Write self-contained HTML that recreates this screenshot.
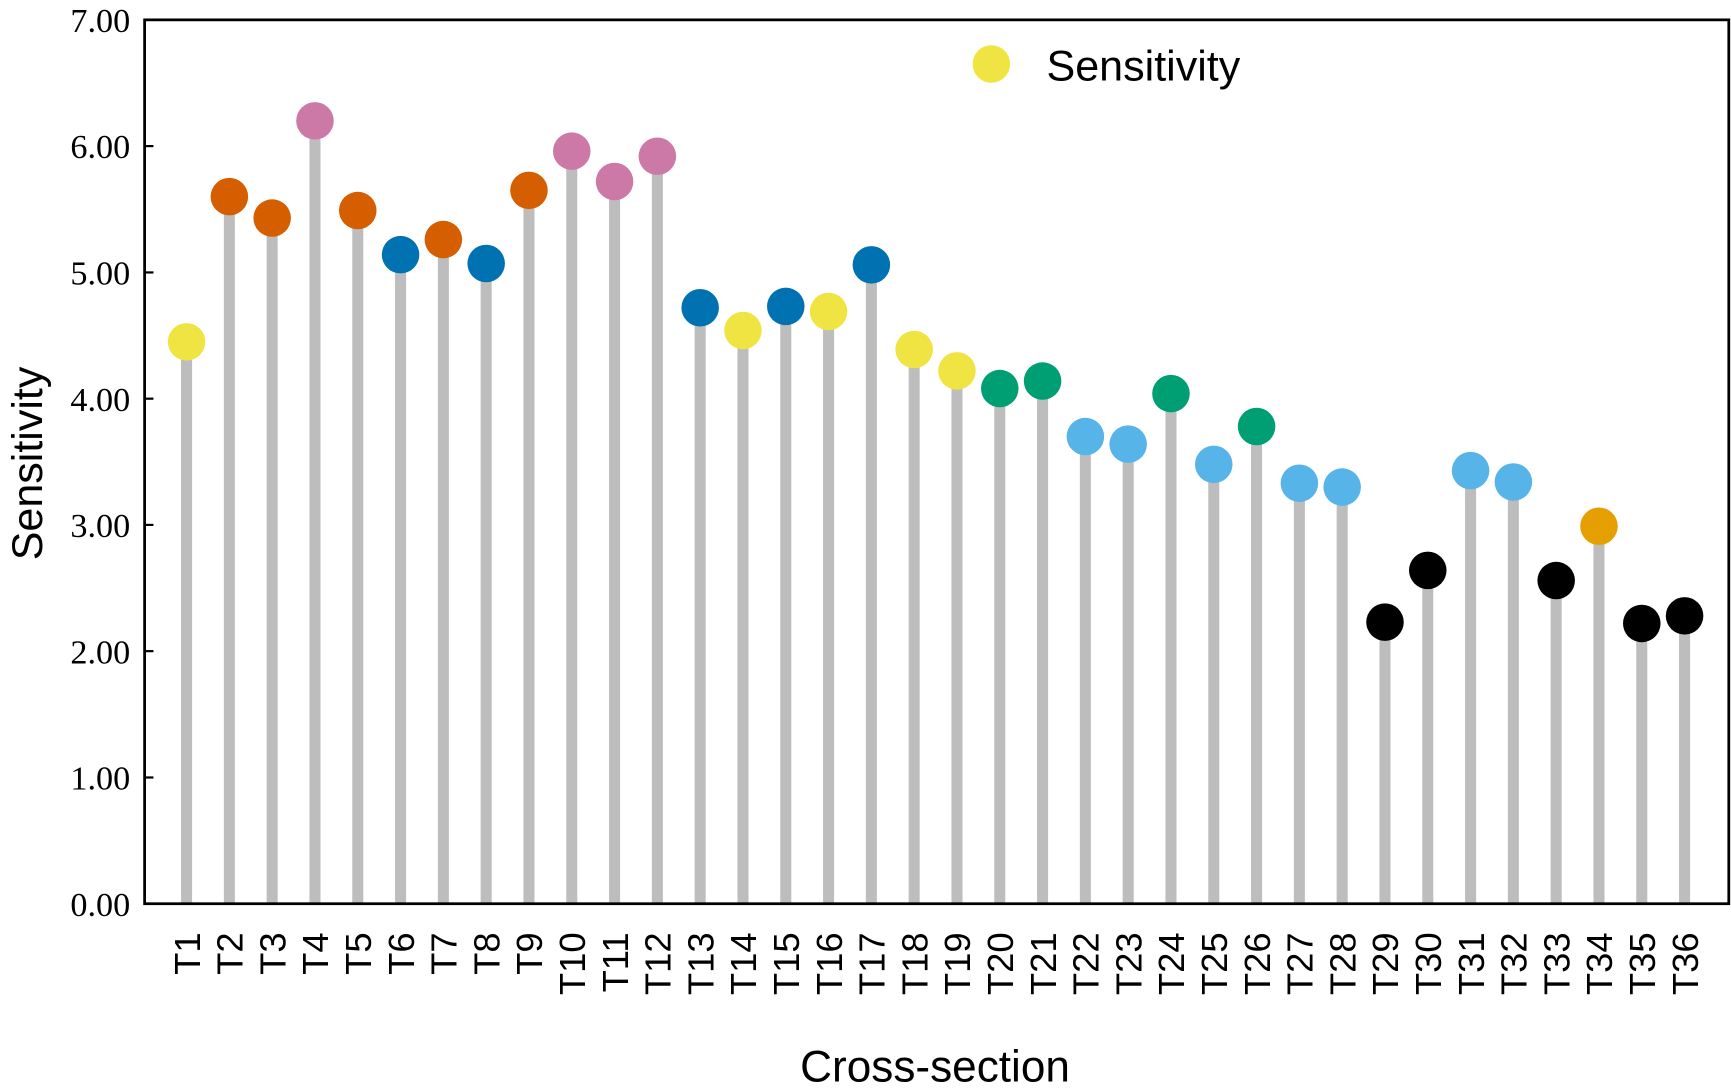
<!DOCTYPE html><html><head><style>body{margin:0;background:#fff}svg{display:block}</style></head><body>
<svg width="1731" height="1088" viewBox="0 0 1568 986" preserveAspectRatio="none" xmlns="http://www.w3.org/2000/svg">
<g stroke="#bdbdbd" stroke-width="10">
<line x1="169" x2="169" y1="819" y2="309.8"/>
<line x1="207.77" x2="207.77" y1="819" y2="178.2"/>
<line x1="246.54" x2="246.54" y1="819" y2="197.6"/>
<line x1="285.31" x2="285.31" y1="819" y2="109.5"/>
<line x1="324.08" x2="324.08" y1="819" y2="190.8"/>
<line x1="362.85" x2="362.85" y1="819" y2="230.8"/>
<line x1="401.62" x2="401.62" y1="819" y2="217.1"/>
<line x1="440.39" x2="440.39" y1="819" y2="238.8"/>
<line x1="479.16" x2="479.16" y1="819" y2="172.5"/>
<line x1="517.93" x2="517.93" y1="819" y2="137"/>
<line x1="556.7" x2="556.7" y1="819" y2="164.5"/>
<line x1="595.47" x2="595.47" y1="819" y2="141.6"/>
<line x1="634.24" x2="634.24" y1="819" y2="278.9"/>
<line x1="673.01" x2="673.01" y1="819" y2="299.5"/>
<line x1="711.78" x2="711.78" y1="819" y2="277.7"/>
<line x1="750.55" x2="750.55" y1="819" y2="282.3"/>
<line x1="789.32" x2="789.32" y1="819" y2="240"/>
<line x1="828.09" x2="828.09" y1="819" y2="316.7"/>
<line x1="866.86" x2="866.86" y1="819" y2="336.1"/>
<line x1="905.63" x2="905.63" y1="819" y2="352.1"/>
<line x1="944.4" x2="944.4" y1="819" y2="345.3"/>
<line x1="983.17" x2="983.17" y1="819" y2="395.6"/>
<line x1="1021.94" x2="1021.94" y1="819" y2="402.5"/>
<line x1="1060.71" x2="1060.71" y1="819" y2="356.7"/>
<line x1="1099.48" x2="1099.48" y1="819" y2="420.8"/>
<line x1="1138.25" x2="1138.25" y1="819" y2="386.5"/>
<line x1="1177.02" x2="1177.02" y1="819" y2="437.9"/>
<line x1="1215.79" x2="1215.79" y1="819" y2="441.4"/>
<line x1="1254.56" x2="1254.56" y1="819" y2="563.8"/>
<line x1="1293.33" x2="1293.33" y1="819" y2="516.9"/>
<line x1="1332.1" x2="1332.1" y1="819" y2="426.5"/>
<line x1="1370.87" x2="1370.87" y1="819" y2="436.8"/>
<line x1="1409.64" x2="1409.64" y1="819" y2="526.1"/>
<line x1="1448.41" x2="1448.41" y1="819" y2="476.9"/>
<line x1="1487.18" x2="1487.18" y1="819" y2="565"/>
<line x1="1525.95" x2="1525.95" y1="819" y2="558.1"/>
</g>
<g>
<circle r="17" cx="169" cy="309.8" fill="#F0E442"/>
<circle r="17" cx="207.77" cy="178.2" fill="#D55E00"/>
<circle r="17" cx="246.54" cy="197.6" fill="#D55E00"/>
<circle r="17" cx="285.31" cy="109.5" fill="#CC79A7"/>
<circle r="17" cx="324.08" cy="190.8" fill="#D55E00"/>
<circle r="17" cx="362.85" cy="230.8" fill="#0072B2"/>
<circle r="17" cx="401.62" cy="217.1" fill="#D55E00"/>
<circle r="17" cx="440.39" cy="238.8" fill="#0072B2"/>
<circle r="17" cx="479.16" cy="172.5" fill="#D55E00"/>
<circle r="17" cx="517.93" cy="137" fill="#CC79A7"/>
<circle r="17" cx="556.7" cy="164.5" fill="#CC79A7"/>
<circle r="17" cx="595.47" cy="141.6" fill="#CC79A7"/>
<circle r="17" cx="634.24" cy="278.9" fill="#0072B2"/>
<circle r="17" cx="673.01" cy="299.5" fill="#F0E442"/>
<circle r="17" cx="711.78" cy="277.7" fill="#0072B2"/>
<circle r="17" cx="750.55" cy="282.3" fill="#F0E442"/>
<circle r="17" cx="789.32" cy="240" fill="#0072B2"/>
<circle r="17" cx="828.09" cy="316.7" fill="#F0E442"/>
<circle r="17" cx="866.86" cy="336.1" fill="#F0E442"/>
<circle r="17" cx="905.63" cy="352.1" fill="#009E73"/>
<circle r="17" cx="944.4" cy="345.3" fill="#009E73"/>
<circle r="17" cx="983.17" cy="395.6" fill="#56B4E9"/>
<circle r="17" cx="1021.94" cy="402.5" fill="#56B4E9"/>
<circle r="17" cx="1060.71" cy="356.7" fill="#009E73"/>
<circle r="17" cx="1099.48" cy="420.8" fill="#56B4E9"/>
<circle r="17" cx="1138.25" cy="386.5" fill="#009E73"/>
<circle r="17" cx="1177.02" cy="437.9" fill="#56B4E9"/>
<circle r="17" cx="1215.79" cy="441.4" fill="#56B4E9"/>
<circle r="17" cx="1254.56" cy="563.8" fill="#000"/>
<circle r="17" cx="1293.33" cy="516.9" fill="#000"/>
<circle r="17" cx="1332.1" cy="426.5" fill="#56B4E9"/>
<circle r="17" cx="1370.87" cy="436.8" fill="#56B4E9"/>
<circle r="17" cx="1409.64" cy="526.1" fill="#000"/>
<circle r="17" cx="1448.41" cy="476.9" fill="#E69F00"/>
<circle r="17" cx="1487.18" cy="565" fill="#000"/>
<circle r="17" cx="1525.95" cy="558.1" fill="#000"/>
</g>
<g font-family="Liberation Sans, sans-serif" font-size="33" text-anchor="end">
<text transform="translate(181,845) rotate(-90)">T1</text>
<text transform="translate(219.77,845) rotate(-90)">T2</text>
<text transform="translate(258.54,845) rotate(-90)">T3</text>
<text transform="translate(297.31,845) rotate(-90)">T4</text>
<text transform="translate(336.08,845) rotate(-90)">T5</text>
<text transform="translate(374.85,845) rotate(-90)">T6</text>
<text transform="translate(413.62,845) rotate(-90)">T7</text>
<text transform="translate(452.39,845) rotate(-90)">T8</text>
<text transform="translate(491.16,845) rotate(-90)">T9</text>
<text transform="translate(529.93,845) rotate(-90)">T10</text>
<text transform="translate(568.7,845) rotate(-90)">T11</text>
<text transform="translate(607.47,845) rotate(-90)">T12</text>
<text transform="translate(646.24,845) rotate(-90)">T13</text>
<text transform="translate(685.01,845) rotate(-90)">T14</text>
<text transform="translate(723.78,845) rotate(-90)">T15</text>
<text transform="translate(762.55,845) rotate(-90)">T16</text>
<text transform="translate(801.32,845) rotate(-90)">T17</text>
<text transform="translate(840.09,845) rotate(-90)">T18</text>
<text transform="translate(878.86,845) rotate(-90)">T19</text>
<text transform="translate(917.63,845) rotate(-90)">T20</text>
<text transform="translate(956.4,845) rotate(-90)">T21</text>
<text transform="translate(995.17,845) rotate(-90)">T22</text>
<text transform="translate(1033.94,845) rotate(-90)">T23</text>
<text transform="translate(1072.71,845) rotate(-90)">T24</text>
<text transform="translate(1111.48,845) rotate(-90)">T25</text>
<text transform="translate(1150.25,845) rotate(-90)">T26</text>
<text transform="translate(1189.02,845) rotate(-90)">T27</text>
<text transform="translate(1227.79,845) rotate(-90)">T28</text>
<text transform="translate(1266.56,845) rotate(-90)">T29</text>
<text transform="translate(1305.33,845) rotate(-90)">T30</text>
<text transform="translate(1344.1,845) rotate(-90)">T31</text>
<text transform="translate(1382.87,845) rotate(-90)">T32</text>
<text transform="translate(1421.64,845) rotate(-90)">T33</text>
<text transform="translate(1460.41,845) rotate(-90)">T34</text>
<text transform="translate(1499.18,845) rotate(-90)">T35</text>
<text transform="translate(1537.95,845) rotate(-90)">T36</text>
</g>
<g font-family="Liberation Serif, serif" font-size="31" text-anchor="end">
<text x="118" y="830">0.00</text>
<text x="118" y="715.6">1.00</text>
<text x="118" y="601.1">2.00</text>
<text x="118" y="486.7">3.00</text>
<text x="118" y="372.3">4.00</text>
<text x="118" y="257.9">5.00</text>
<text x="118" y="143.4">6.00</text>
<text x="118" y="29">7.00</text>
</g>
<g stroke="#000" stroke-width="2">
<line x1="131" x2="139" y1="704.6" y2="704.6"/>
<line x1="131" x2="139" y1="590.1" y2="590.1"/>
<line x1="131" x2="139" y1="475.7" y2="475.7"/>
<line x1="131" x2="139" y1="361.3" y2="361.3"/>
<line x1="131" x2="139" y1="246.9" y2="246.9"/>
<line x1="131" x2="139" y1="132.4" y2="132.4"/>
</g>
<rect x="131" y="18" width="1435" height="801" fill="none" stroke="#000" stroke-width="2.5"/>
<text transform="translate(38,420) rotate(-90)" text-anchor="middle" font-family="Liberation Sans, sans-serif" font-size="39">Sensitivity</text>
<text x="847" y="980" text-anchor="middle" font-family="Liberation Sans, sans-serif" font-size="40">Cross-section</text>
<circle cx="898" cy="58" r="17" fill="#F0E442"/>
<text x="948" y="73" font-family="Liberation Sans, sans-serif" font-size="39">Sensitivity</text>
</svg></body></html>
